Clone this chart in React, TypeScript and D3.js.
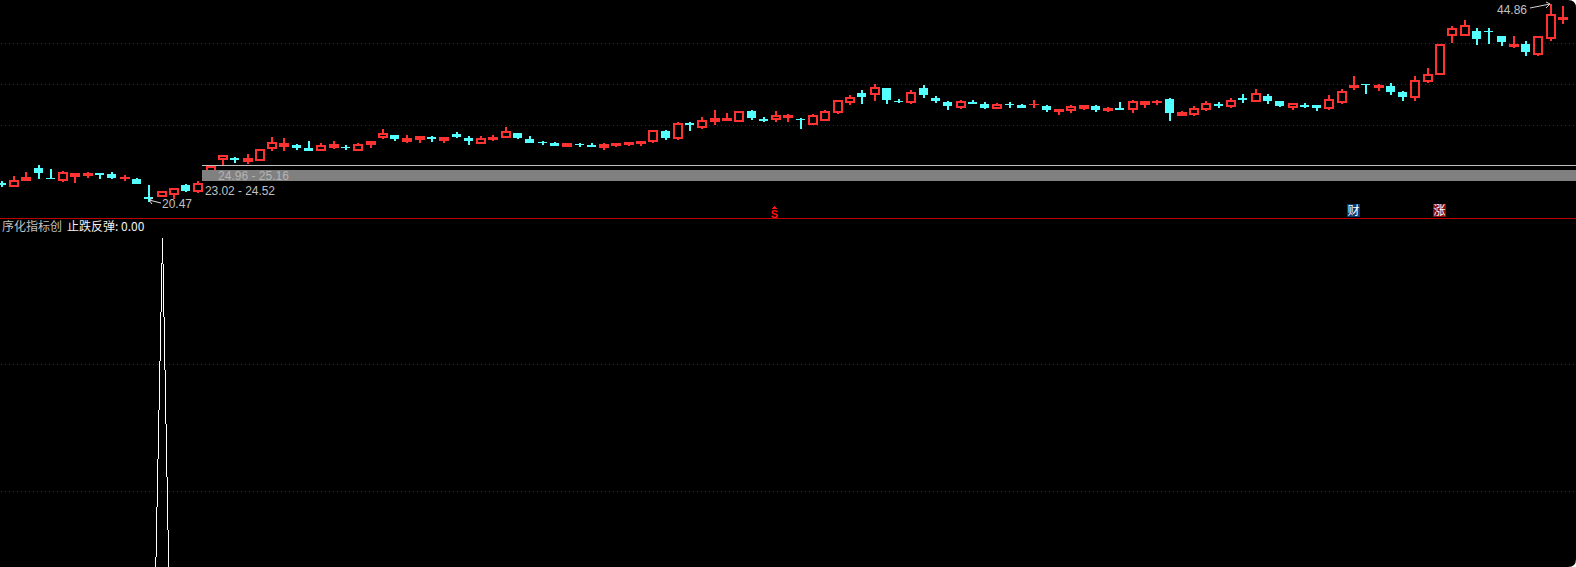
import React from "react";
import * as d3 from "d3";

const W = 1576;
const H = 567;

// Candle kinds: r = hollow red, R = filled red, c = cyan
const kinds = "c r R c c r R R c c R c c r r c r r r c R r r R c c r R c r R r c R R c R c c r R r c c c c R c c R R R R r c r c r R R r c c r R c r r r r c r c c r c c c r c c r c c R c R r R c R c r R R c R r r c r c r c c r c c r r R c R c c r r r r r c c c R c r r R".split(" ");

const bodyTops = [22.49,22.86,23.24,24.36,23.11,23.86,23.74,23.74,23.74,23.61,23.24,22.99,20.74,21.49,21.86,22.24,22.49,24.61,25.99,25.61,25.61,26.74,27.61,27.49,27.24,26.86,27.24,27.36,26.99,27.36,27.74,28.74,28.49,28.11,28.36,28.24,28.24,28.61,28.11,28.11,28.24,28.99,28.74,27.99,27.61,27.49,27.49,27.36,27.24,27.36,27.49,27.61,27.74,29.11,28.99,29.99,29.99,30.36,30.61,30.61,31.49,31.49,30.49,30.99,30.99,30.49,30.99,31.49,32.86,33.24,33.74,34.49,34.36,32.74,33.86,34.36,33.11,32.61,32.74,32.61,32.36,32.36,32.36,32.24,32.36,32.11,31.74,32.11,32.24,32.11,31.86,31.86,32.74,32.74,32.74,32.99,31.36,31.86,32.49,32.36,32.86,33.11,33.74,33.36,32.74,32.49,32.24,32.24,32.99,33.99,34.74,34.86,34.74,34.61,33.86,35.36,36.11,39.86,41.86,42.24,41.49,41.49,40.86,39.86,39.86,40.86,43.61,43.24];

const bodyBottoms = [22.24,21.99,22.74,23.74,22.99,22.74,23.24,23.36,23.49,23.11,22.99,22.36,20.49,20.74,20.99,21.49,21.36,23.86,25.36,25.36,25.11,25.24,26.74,26.99,26.86,26.49,26.49,26.86,26.86,26.49,27.24,28.11,27.99,27.61,27.86,27.99,27.74,28.24,27.74,27.36,27.86,28.11,28.11,27.49,27.49,27.11,26.99,27.24,26.99,26.86,27.11,27.24,27.36,27.61,28.11,27.99,29.74,29.36,30.11,30.24,30.11,30.61,30.24,30.36,30.61,30.36,29.74,30.24,31.24,32.49,33.24,33.49,32.86,32.61,32.49,33.49,32.74,32.11,31.86,32.36,31.86,31.74,32.24,31.86,32.24,31.61,31.36,31.49,31.74,31.61,31.49,31.61,31.61,32.24,32.49,31.24,30.86,30.99,31.61,32.11,31.99,32.86,32.61,32.74,32.11,31.86,31.99,31.86,31.74,32.49,34.36,34.74,34.36,33.86,33.24,33.11,35.11,35.99,40.86,40.86,40.49,41.36,40.11,39.49,38.86,38.49,40.49,42.86];

const highs = [22.74,23.36,23.86,24.74,24.24,23.99,23.74,23.86,23.74,23.86,23.49,23.11,22.24,21.49,21.86,22.36,22.74,24.61,25.99,25.74,26.11,26.74,28.24,28.11,27.36,27.74,27.49,27.74,27.24,27.49,27.74,29.24,28.49,28.49,28.36,28.36,28.24,28.86,28.36,28.36,28.49,29.49,28.74,28.36,27.74,27.61,27.49,27.49,27.49,27.49,27.49,27.61,27.74,29.11,29.11,30.11,30.11,30.74,31.61,31.24,31.49,31.61,30.74,31.49,31.11,30.61,31.11,31.61,32.86,33.49,34.11,34.86,34.36,32.99,34.11,34.74,33.36,32.74,32.86,32.86,32.61,32.49,32.61,32.36,32.86,32.24,31.74,32.24,32.24,32.24,31.99,32.61,32.86,32.74,32.86,33.11,31.49,32.11,32.74,32.61,33.11,33.61,34.24,33.61,32.74,32.49,32.49,32.24,33.49,34.24,35.86,34.86,34.86,34.99,33.99,35.86,36.86,39.86,42.11,42.86,41.86,41.86,40.86,40.86,40.24,40.86,44.86,44.61];

const lows = [21.99,21.99,22.74,22.99,22.99,22.61,22.49,23.11,22.99,22.99,22.74,22.36,20.11,20.74,20.49,21.36,21.24,23.86,24.74,24.99,24.86,25.24,26.49,26.49,26.61,26.49,26.49,26.74,26.61,26.49,26.86,27.99,27.74,27.49,27.49,27.61,27.49,28.11,27.24,27.36,27.74,28.11,27.99,27.49,27.24,27.11,26.99,26.99,26.99,26.61,26.99,27.11,27.11,27.49,27.86,27.86,28.99,29.24,29.74,30.24,30.11,30.36,30.11,30.11,30.11,29.24,29.74,30.24,31.11,32.24,32.36,32.74,32.36,32.49,32.36,33.11,32.49,31.61,31.74,32.36,31.74,31.74,31.86,31.86,31.86,31.36,30.99,31.24,31.61,31.36,31.36,31.61,31.24,31.86,32.24,30.24,30.86,30.86,31.49,31.86,31.86,32.49,32.61,32.36,31.99,31.61,31.86,31.49,31.61,32.36,34.11,33.61,33.99,33.49,32.74,32.74,34.99,35.99,39.99,40.86,39.74,39.86,39.61,39.36,38.36,38.36,40.24,42.36];

// Indicator pane: 止跌反弹 spike around the low, in pane units
const spikeIndex = [12, 13, 14];
const spikeValues = [-83, 100, -98.2];

const priceGrid = [39.93, 34.8, 29.68];
const paneGrid = [61.4, 22.8];

const COLORS = {
  red: "#ff3232",
  cyan: "#54ffff",
  grid: "#a00000",
  grey: "#c0c0c0",
  band: "#808080",
  rule: "#c00000",
};

const x = d3.scaleLinear().domain([0, 127]).range([1.7, 1563]);
const y = d3.scaleLinear().domain([17.985, 45.36]).range([219, 0]);
const py = d3.scaleLinear().domain([0, 100]).range([567, 238]);
const px = (v: number) => Math.round(y(v));

const spikeLine = d3
  .line<number>()
  .x((_, i) => x(spikeIndex[i]) + 1)
  .y((d) => py(d));

const CJK = '"Noto Sans CJK SC", sans-serif';
const LATIN = '"Liberation Sans", sans-serif';

function Candle({ i }: { i: number }) {
  const cx = Math.round(x(i));
  const kind = kinds[i];
  const T = px(bodyTops[i]);
  const B = px(bodyBottoms[i]);
  const Hi = px(highs[i]);
  const Lo = px(lows[i]);
  const color = kind === "c" ? COLORS.cyan : COLORS.red;
  const wick = (
    <>
      {Hi < T && <rect x={cx - 1} y={Hi} width={2} height={T - Hi} fill={color} />}
      {Lo > B && <rect x={cx - 1} y={B} width={2} height={Lo - B} fill={color} />}
    </>
  );
  if (kind === "r") {
    return (
      <g>
        {wick}
        <rect x={cx - 4} y={T + 1} width={8} height={Math.max(0, B - T - 2)} fill="#000" stroke={color} strokeWidth={2} />
      </g>
    );
  }
  return (
    <g>
      {wick}
      <rect x={cx - 5} y={T} width={kind === "c" ? 9 : 10} height={Math.max(1, B - T)} fill={color} />
    </g>
  );
}

function Dotted({ yy }: { yy: number }) {
  return <line x1={1} x2={W} y1={yy + 0.5} y2={yy + 0.5} stroke={COLORS.grid} strokeWidth={1} strokeDasharray="1 3" />;
}

export default function App() {
  const R = 8;
  const frame = `M0 0H${W - R}Q${W} 0 ${W} ${R}V${H - R}Q${W} ${H} ${W - R} ${H}H0Z`;
  return (
    <svg
      width={W}
      height={H}
      viewBox={`0 0 ${W} ${H}`}
      style={{ position: "fixed", left: 0, top: 0, display: "block", background: "#fff" }}
      shapeRendering="crispEdges"
    >
      <defs>
        <clipPath id="pane"><rect x={0} y={219} width={W} height={H - 219} /></clipPath>
      </defs>
      <path d={frame} fill="#000" shapeRendering="auto" />

      {priceGrid.map((v) => <Dotted key={v} yy={Math.floor(y(v))} />)}
      {paneGrid.map((v) => <Dotted key={v} yy={Math.floor(py(v))} />)}

      {d3.range(kinds.length).map((i) => <Candle key={i} i={i} />)}

      {/* Range band */}
      <rect x={202} y={165} width={W - 202} height={1} fill={COLORS.grey} />
      <rect x={202} y={170} width={W - 202} height={11} fill={COLORS.band} />
      <text x={218} y={180} fontFamily={LATIN} fontSize={12} fill="#b4b4b4" textLength={71} shapeRendering="auto">24.96 - 25.16</text>
      <text x={205} y={195} fontFamily={LATIN} fontSize={12} fill={COLORS.grey} textLength={70} shapeRendering="auto">23.02 - 24.52</text>

      {/* Extreme labels */}
      <text x={162} y={208} fontFamily={LATIN} fontSize={12} fill={COLORS.grey} shapeRendering="auto">20.47</text>
      <path d="M161 203L149 200M149 200L153 198M149 200L152 204" fill="none" stroke="#e0e0e0" strokeWidth={1} shapeRendering="auto" />
      <text x={1497} y={14} fontFamily={LATIN} fontSize={12} fill={COLORS.grey} shapeRendering="auto">44.86</text>
      <path d="M1530 8L1550 4M1550 4L1546 2M1550 4L1546 8" fill="none" stroke="#d0d0d0" strokeWidth={1} shapeRendering="auto" />

      {/* Signals */}
      <path d="M774.5 206l3 3h-6z" fill="#ff1010" />
      <text x={774.5} y={217.5} textAnchor="middle" fontFamily={LATIN} fontWeight={700} fontSize={11} fill="#ff1010" shapeRendering="auto">S</text>
      <rect x={1347} y={204} width={13} height={13} fill="#0a3a70" />
      <text x={1353.5} y={215} textAnchor="middle" fontFamily={CJK} fontSize={12} fill="#fff" shapeRendering="auto">财</text>
      <rect x={1433} y={204} width={13} height={13} fill="#8b0a0a" />
      <text x={1439.5} y={215} textAnchor="middle" fontFamily={CJK} fontSize={12} fill="#fff" shapeRendering="auto">涨</text>

      <rect x={0} y={218} width={W} height={1} fill={COLORS.rule} />

      {/* Indicator pane */}
      <text x={2} y={231} fontFamily={CJK} fontSize={12} fill={COLORS.grey} shapeRendering="auto">序化指标创</text>
      <text x={67} y={231} fontFamily={CJK} fontSize={12} fill="#f0f0f0" shapeRendering="auto">止跌反弹: 0.00</text>
      <path d={spikeLine(spikeValues) ?? ""} clipPath="url(#pane)" fill="none" stroke="#fff" strokeWidth={1} />
    </svg>
  );
}
